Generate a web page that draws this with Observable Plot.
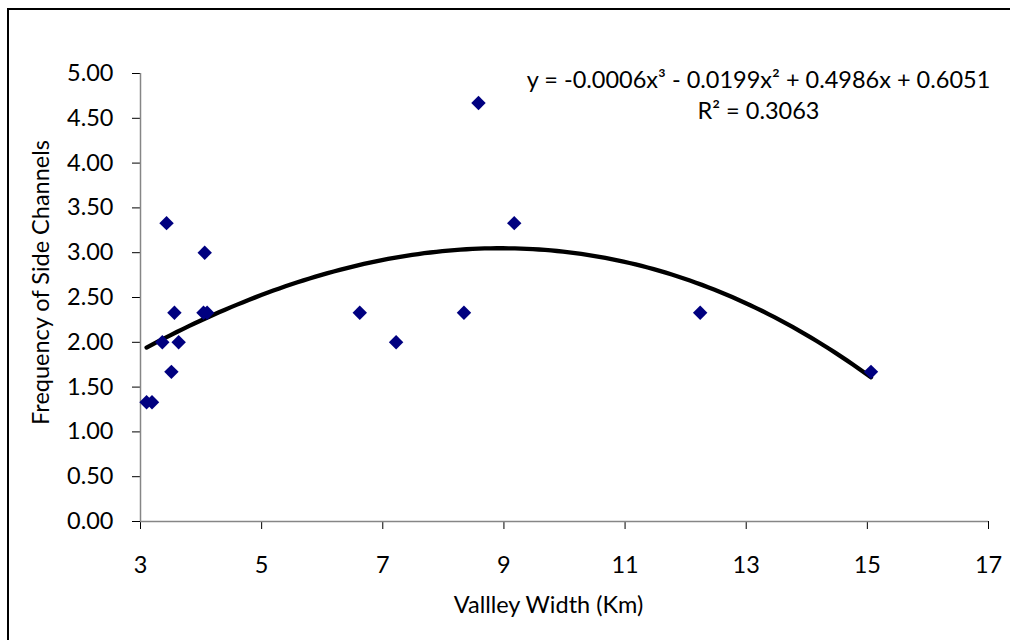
<!DOCTYPE html>
<html><head><meta charset="utf-8">
<script src="https://cdn.jsdelivr.net/npm/d3@7"></script>
<script src="https://cdn.jsdelivr.net/npm/@observablehq/plot@0.6"></script>
<style>
body{margin:0;background:#fff;}
#wrap{position:relative;width:1010px;height:640px;overflow:hidden;background:#fff;}
#frame{position:absolute;left:7px;top:8px;width:1030px;height:660px;border:2px solid #000;box-sizing:border-box;pointer-events:none;}
</style></head><body>
<div id="wrap"><div id="chart"></div><div id="frame"></div></div>
<script>
// Data
const valleyWidth  = [3.10, 3.19, 3.36, 3.43, 3.51, 3.56, 3.63, 4.04, 4.06, 4.10, 6.62, 7.22, 8.34, 8.58, 9.17, 12.24, 15.06];
const sideChannels = [1.33, 1.33, 2.00, 3.33, 1.67, 2.33, 2.00, 2.33, 3.00, 2.33, 2.33, 2.00, 2.33, 4.67, 3.33, 2.33, 1.67];
const xTicks = [3, 5, 7, 9, 11, 13, 15, 17];
const yTicks = [0, 0.5, 1, 1.5, 2, 2.5, 3, 3.5, 4, 4.5, 5];
const equationLines = ["y = -0.0006x³ - 0.0199x² + 0.4986x + 0.6051", "R² = 0.3063"];
const xTitle = "Vallley Width (Km)";
const yTitle = "Frequency of Side Channels";

const points = valleyWidth.map((w, i) => ({w, f: sideChannels[i]}));

// Polynomial (order 3) least-squares trendline, as in the spreadsheet
function fitCubic(xs, ys) {
  const n = 4;
  const A = Array.from({length: n}, () => Array(n + 1).fill(0));
  for (let k = 0; k < xs.length; k++) {
    for (let i = 0; i < n; i++) {
      for (let j = 0; j < n; j++) A[i][j] += xs[k] ** (i + j);
      A[i][n] += ys[k] * xs[k] ** i;
    }
  }
  for (let i = 0; i < n; i++) {
    let p = i;
    for (let r = i + 1; r < n; r++) if (Math.abs(A[r][i]) > Math.abs(A[p][i])) p = r;
    [A[i], A[p]] = [A[p], A[i]];
    for (let r = 0; r < n; r++) {
      if (r === i) continue;
      const f = A[r][i] / A[i][i];
      for (let c = i; c <= n; c++) A[r][c] -= f * A[i][c];
    }
  }
  return A.map((row, i) => row[n] / row[i]);
}
const coef = fitCubic(valleyWidth, sideChannels);
const [xmin, xmax] = d3.extent(valleyWidth);
const trend = d3.range(0, 121).map(k => {
  const x = xmin + (xmax - xmin) * k / 120;
  return {x, y: coef[0] + coef[1] * x + coef[2] * x * x + coef[3] * x * x * x};
});

const fontFamily = "Lato, 'Noto Sans', sans-serif";
const fs = 23.5;
const chart = Plot.plot({
  width: 1010,
  height: 640,
  marginLeft: 140,
  marginRight: 22,
  marginTop: 73,
  marginBottom: 119,
  style: {fontFamily, fontSize: fs + "px", color: "#000", background: "transparent", overflow: "visible"},
  x: {domain: [3, 17], ticks: xTicks, tickSize: 8, tickPadding: 27, label: null},
  y: {domain: [0, 5], ticks: yTicks, tickSize: 8, tickPadding: 19, tickFormat: d => d.toFixed(2), label: null},
  marks: [
    Plot.ruleY([0], {stroke: "#868686", strokeWidth: 1.5}),
    Plot.ruleX([3], {stroke: "#868686", strokeWidth: 1.5}),
    Plot.line(trend, {x: "x", y: "y", stroke: "#000", strokeWidth: 4.3}),
    Plot.dot(points, {x: "w", y: "f", symbol: "diamond2", r: 6.5, fill: "#000080", stroke: "none"}),
    Plot.text([equationLines.join("\n")], {frameAnchor: "top-right", textAnchor: "middle", lineAnchor: "top", lineHeight: 1.3, dx: -230, dy: -7, fontSize: fs, fill: "#000"}),
    Plot.text([xTitle], {frameAnchor: "bottom", textAnchor: "middle", lineAnchor: "top", dx: -16, dy: 75, fontSize: fs, fill: "#000"}),
    Plot.text([yTitle], {frameAnchor: "left", rotate: -90, textAnchor: "middle", lineAnchor: "middle", dx: -99, dy: -15, fontSize: fs, fill: "#000"})
  ]
});
document.getElementById("chart").appendChild(chart);
</script>
</body></html>
